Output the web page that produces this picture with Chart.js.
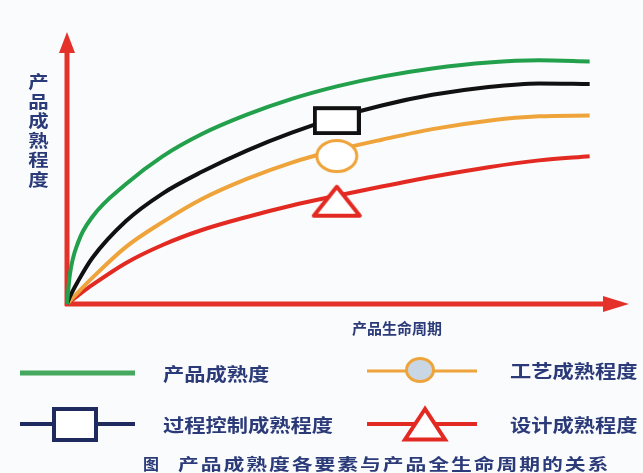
<!DOCTYPE html>
<html lang="zh-CN">
<head>
<meta charset="utf-8">
<title>产品成熟度各要素与产品全生命周期的关系</title>
<script src="https://cdn.jsdelivr.net/npm/chart.js@4/dist/chart.umd.min.js"></script>
<style>
    html, body { margin: 0; padding: 0; background: #fafbfc; }
    #wrap { position: relative; width: 643px; height: 473px; overflow: hidden; }
    #maturityChart { position: absolute; left: 0; top: 0; }
    #legendIcons { position: absolute; left: 0; top: 0; pointer-events: none; }
    .txt {
        position: absolute;
        font-family: "Noto Sans CJK SC", "Noto Sans", sans-serif;
        font-weight: 700;
        color: #2b3a78;
        white-space: nowrap;
        transform-origin: left center;
    }
    .ytitle { left: 30px; top: 71px; width: 17px; font-size: 17px; line-height: 19.5px; text-align: center; transform: scaleX(1.2); transform-origin: center; white-space: normal; }
    .xtitle { left: 352px; top: 318px; font-size: 15px; line-height: 20px; }
    .legend { font-size: 18px; line-height: 24px; transform: scaleX(1.18); }
    .caption { top: 452px; font-size: 16px; line-height: 22px; transform: scaleX(1.3); letter-spacing: 1.5px; }
</style>
</head>
<body>
<div id="wrap">
    <canvas id="maturityChart" width="643" height="473"></canvas>
    <svg id="legendIcons" width="643" height="473">
        <line x1="20" y1="373" x2="135" y2="373" stroke="#45a85f" stroke-width="5"/>
        <line x1="367" y1="371" x2="477" y2="371" stroke="#eea43a" stroke-width="3"/>
        <ellipse cx="420" cy="370" rx="13.5" ry="11.5" fill="#c9d6e4" stroke="#eea43a" stroke-width="3"/>
        <line x1="20" y1="424" x2="135" y2="424" stroke="#1f2b5e" stroke-width="4"/>
        <rect x="54" y="409" width="42" height="31" fill="#ffffff" stroke="#1f2b5e" stroke-width="4"/>
        <line x1="367" y1="424" x2="477" y2="424" stroke="#e32a22" stroke-width="4"/>
        <polygon points="425,409 405,439.5 445,439.5" fill="#ffffff" stroke="#e32a22" stroke-width="4"/>
    </svg>
    <div class="txt ytitle">产品成熟程度</div>
    <div class="txt xtitle">产品生命周期</div>
    <div class="txt legend" style="left:163px;top:361px">产品成熟度</div>
    <div class="txt legend" style="left:510px;top:358px">工艺成熟程度</div>
    <div class="txt legend" style="left:163px;top:412px">过程控制成熟程度</div>
    <div class="txt legend" style="left:510px;top:412px">设计成熟程度</div>
    <div class="txt caption" style="left:143px;transform:none;letter-spacing:0">图</div>
    <div class="txt caption" style="left:178px">产品成熟度各要素与产品全生命周期的关系</div>
</div>
<script>
// lifecycle position (0 = launch) and maturity level for each factor
const lifecycle = [0, 0.5, 2, 4.5, 10.5, 17, 24, 32, 40, 48, 56, 65, 75, 84, 93];
const productMaturity = [0, 10.7, 22.8, 32.0, 44.1, 54.3, 62.5, 69.6, 75.4, 80.0, 83.6, 86.6, 88.8, 89.6, 89.2];
const processControlMaturity = [0, 2.6, 8.5, 16.9, 30.5, 40.6, 48.6, 56.4, 63.0, 68.5, 73.0, 76.9, 79.8, 81.1, 80.9];
const processMaturity = [0, 1.1, 4.4, 9.6, 21.0, 30.1, 38.6, 46.0, 52.0, 56.6, 60.4, 64.3, 67.4, 69.0, 69.3];
const designMaturity = [0, 0.8, 3.2, 7.0, 15.1, 21.7, 27.2, 32.0, 36.2, 39.8, 43.2, 46.8, 50.3, 52.8, 54.3];
const markerIndex = 9;

function makeMarker(w, h, draw) {
    const c = document.createElement('canvas');
    c.width = w;
    c.height = h;
    draw(c.getContext('2d'), w, h);
    return c;
}

// the marker shapes sit a little below the curve, as in the original drawing
const squareMarker = makeMarker(48, 35, function (g) {
    g.lineWidth = 4;
    g.fillStyle = '#ffffff';
    g.strokeStyle = '#111111';
    g.fillRect(2, 8, 44, 25);
    g.strokeRect(2, 8, 44, 25);
});

const circleMarker = makeMarker(46, 48, function (g) {
    g.lineWidth = 3;
    g.fillStyle = '#ffffff';
    g.strokeStyle = '#eea43a';
    g.beginPath();
    g.ellipse(23, 30, 20, 15.5, 0, 0, Math.PI * 2);
    g.fill();
    g.stroke();
});

const triangleMarker = makeMarker(52, 48, function (g) {
    g.lineWidth = 4;
    g.lineJoin = 'round';
    g.fillStyle = '#ffffff';
    g.strokeStyle = '#e32a22';
    g.beginPath();
    g.moveTo(26, 15);
    g.lineTo(49, 44);
    g.lineTo(3, 44);
    g.closePath();
    g.fill();
    g.stroke();
});

function toPoints(values) {
    return values.map((v, i) => ({ x: lifecycle[i], y: v }));
}

function series(label, values, color, marker) {
    return {
        label: label,
        data: toPoints(values),
        borderColor: color,
        borderWidth: 4,
        cubicInterpolationMode: 'monotone',
        fill: false,
        clip: false,
        pointRadius: ctx => (marker && ctx.dataIndex === markerIndex) ? 20 : 0,
        pointStyle: ctx => (marker && ctx.dataIndex === markerIndex) ? marker : 'circle',
    };
}

// red arrows for the two axes
const arrowAxes = {
    id: 'arrowAxes',
    beforeDatasetsDraw(chart) {
        const { ctx, chartArea } = chart;
        const { left, top, right, bottom } = chartArea;
        ctx.save();
        ctx.strokeStyle = '#e4322b';
        ctx.fillStyle = '#e4322b';
        ctx.lineWidth = 5;
        ctx.beginPath();
        ctx.moveTo(left, bottom + 2);
        ctx.lineTo(left, top + 16);
        ctx.moveTo(left - 2, bottom);
        ctx.lineTo(right - 22, bottom);
        ctx.stroke();
        ctx.beginPath();
        ctx.moveTo(left, top);
        ctx.lineTo(left + 8, top + 21);
        ctx.lineTo(left - 8, top + 21);
        ctx.closePath();
        ctx.moveTo(right, bottom);
        ctx.lineTo(right - 26, bottom - 8);
        ctx.lineTo(right - 26, bottom + 8);
        ctx.closePath();
        ctx.fill();
        ctx.restore();
    }
};

const ctx = document.getElementById('maturityChart').getContext('2d');
new Chart(ctx, {
    type: 'line',
    data: {
        datasets: [
            series('产品成熟度', productMaturity, '#22a04c', null),
            series('过程控制成熟程度', processControlMaturity, '#111111', squareMarker),
            series('工艺成熟程度', processMaturity, '#eea43a', circleMarker),
            series('设计成熟程度', designMaturity, '#e32a22', triangleMarker),
        ]
    },
    options: {
        responsive: false,
        animation: false,
        devicePixelRatio: 1,
        events: [],
        layout: { padding: { left: 67, top: 32, right: 14, bottom: 169 } },
        scales: {
            x: { type: 'linear', min: 0, max: 100, display: false },
            y: { type: 'linear', min: 0, max: 100, display: false },
        },
        plugins: {
            legend: { display: false },
            tooltip: { enabled: false },
        },
    },
    plugins: [arrowAxes],
});
</script>
</body>
</html>
